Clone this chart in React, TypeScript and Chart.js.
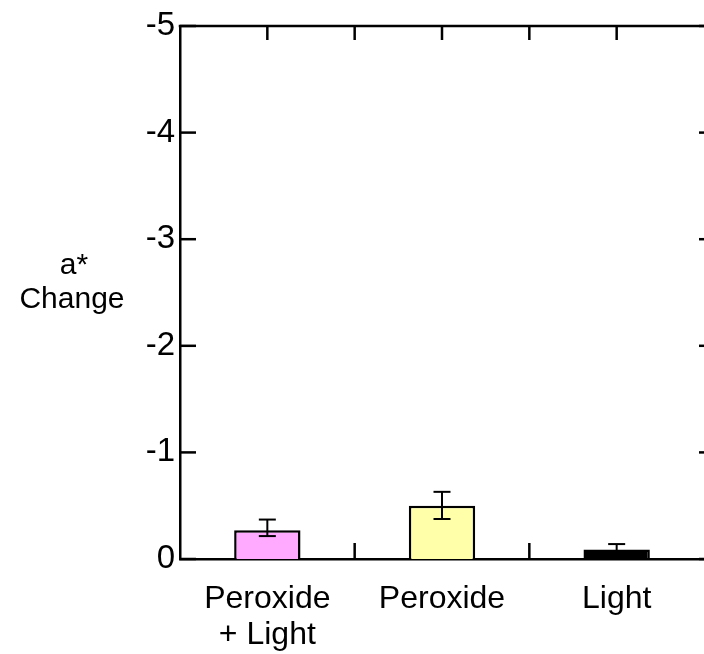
import React, { useEffect, useRef } from 'react';
import { Chart, registerables } from 'chart.js';

Chart.register(...registerables);

const categories: (string | string[])[] = [['Peroxide', '+ Light'], 'Peroxide', 'Light'];
const values = [-0.27, -0.5, -0.09];
const errNear = [-0.215, -0.375, -0.04];
const errFar = [-0.37, -0.63, -0.14];
const yTicks = [-5, -4, -3, -2, -1, 0];
const yTitle = ['a*', 'Change'];

const barColors = ['#FFAAFF', '#FFFFAA', '#000000'];
const FONT = '"Liberation Sans", Arial, Helvetica, sans-serif';

const framePlugin = {
  id: 'framePlugin',
  afterDatasetsDraw(chart: any) {
    const ctx = chart.ctx;
    const { left, top, bottom } = chart.chartArea;
    const xs = chart.scales.x;
    const ys = chart.scales.y;
    const W = chart.width;
    const line = (x1: number, y1: number, x2: number, y2: number) => {
      ctx.beginPath();
      ctx.moveTo(x1, y1);
      ctx.lineTo(x2, y2);
      ctx.stroke();
    };
    ctx.save();
    ctx.strokeStyle = '#000';
    ctx.lineWidth = 2.5;
    ctx.lineCap = 'butt';
    // top frame
    line(left - 1.25, top, W, top);
    // y inner ticks (left & right)
    yTicks.forEach((v) => {
      const py = ys.getPixelForValue(v);
      line(left, py, left + 16, py);
      line(W - 5, py, W, py);
    });
    // top and bottom ticks
    const n = categories.length;
    for (let i = 0; i < n; i++) {
      const c = xs.getPixelForValue(i);
      line(c, top, c, top + 14);
      if (i < n - 1) {
        const b = (c + xs.getPixelForValue(i + 1)) / 2;
        line(b, top, b, top + 14);
        line(b, bottom, b, bottom - 16);
      }
    }
    // error bars
    ctx.lineWidth = 2;
    for (let i = 0; i < n; i++) {
      const px = xs.getPixelForValue(i);
      const y1 = ys.getPixelForValue(errNear[i]);
      const y2 = ys.getPixelForValue(errFar[i]);
      line(px, y1, px, y2);
      line(px - 8.5, y2, px + 8.5, y2);
      line(px - 8.5, y1, px + 8.5, y1);
    }
    // y title (horizontal)
    ctx.fillStyle = '#000';
    ctx.font = `30px ${FONT}`;
    ctx.textAlign = 'center';
    ctx.textBaseline = 'alphabetic';
    const mid = (top + bottom) / 2;
    ctx.fillText(yTitle[0], 74, mid - 19);
    ctx.fillText(yTitle[1], 72, mid + 15);
    ctx.restore();
  },
};

export default function App() {
  const ref = useRef<HTMLCanvasElement>(null);
  useEffect(() => {
    if (!ref.current) return;
    const chart = new Chart(ref.current, {
      type: 'bar',
      data: {
        labels: categories as any,
        datasets: [
          {
            data: values,
            backgroundColor: barColors,
            borderColor: '#000',
            borderWidth: 2.5,
            barPercentage: 0.38,
            categoryPercentage: 1,
          },
        ],
      },
      options: {
        animation: false,
        responsive: false,
        devicePixelRatio: 1,
        layout: { padding: { top: 26, right: 0, left: 0, bottom: 0 } },
        plugins: { legend: { display: false }, tooltip: { enabled: false } },
        scales: {
          x: {
            type: 'category',
            position: 'bottom',
            grid: { display: false, drawTicks: false },
            border: { display: true, color: '#000', width: 2.5 },
            ticks: {
              color: '#000',
              font: { size: 32, family: FONT, lineHeight: 1.1 },
              padding: 23,
              maxRotation: 0,
              autoSkip: false,
            },
            afterFit: (s: any) => {
              s.height = 95;
            },
          },
          y: {
            type: 'linear',
            reverse: true,
            min: -5,
            max: 0,
            grid: { display: false, drawTicks: false },
            border: { display: true, color: '#000', width: 2.5 },
            ticks: {
              color: '#000',
              font: { size: 33, family: FONT },
              padding: 5,
              callback: (v: any) => String(v),
            },
            afterBuildTicks: (s: any) => {
              s.ticks = yTicks.map((v) => ({ value: v }));
            },
            afterFit: (s: any) => {
              s.width = 180;
            },
          },
        },
      },
      plugins: [framePlugin],
    });
    return () => chart.destroy();
  }, []);
  return (
    <div style={{ position: 'absolute', left: 0, top: 0, width: 704, height: 654, background: '#fff' }}>
      <canvas ref={ref} width={704} height={654} style={{ display: 'block', width: 704, height: 654 }} />
    </div>
  );
}
